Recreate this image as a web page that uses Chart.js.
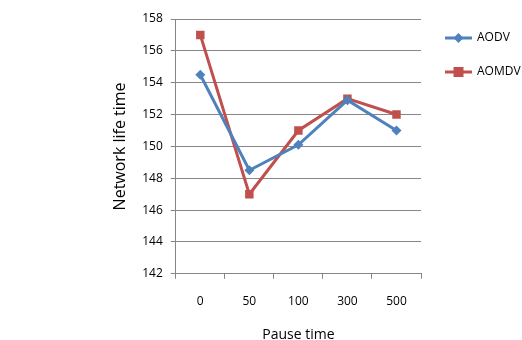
<!DOCTYPE html>
<html>
<head>
<meta charset="utf-8">
<script src="https://cdn.jsdelivr.net/npm/chart.js@4"></script>
<style>
  body { margin: 0; background: #fff; }
  #wrap { width: 522px; height: 340px; }
</style>
</head>
<body>
<div id="wrap"><canvas id="chart" width="522" height="340"></canvas></div>
<script>
const pauseTimes = ["0", "50", "100", "300", "500"];
const aodv = [154.5, 148.5, 150.1, 152.9, 151];
const aomdv = [157, 147, 151, 153, 152];
const seriesNames = ["AODV", "AOMDV"];

const FONT = "'Open Sans', 'Liberation Sans', sans-serif";

// legend drawn to the right of the plot: short line with marker, then name
const sideLegend = {
  id: "sideLegend",
  afterDraw(chart) {
    const c = chart.ctx;
    const x0 = 445, x1 = 472;
    chart.data.datasets.forEach((ds, i) => {
      const y = 38 + i * 34;
      c.save();
      c.strokeStyle = ds.borderColor;
      c.lineWidth = 3;
      c.beginPath(); c.moveTo(x0, y); c.lineTo(x1, y); c.stroke();
      c.fillStyle = ds.backgroundColor;
      const m = (x0 + x1) / 2;
      if (ds.pointStyle === "rect") {
        c.fillRect(m - 5, y - 5, 10, 10);
      } else {
        c.beginPath();
        c.moveTo(m, y - 5); c.lineTo(m + 5, y); c.lineTo(m, y + 5); c.lineTo(m - 5, y);
        c.closePath(); c.fill();
      }
      c.fillStyle = "#000";
      c.font = "12px " + FONT;
      c.textBaseline = "middle";
      c.fillText(ds.label, x1 + 5, y);
      c.restore();
    });
  }
};

new Chart(document.getElementById("chart"), {
  type: "line",
  data: {
    labels: pauseTimes,
    datasets: [
      {
        label: seriesNames[0],
        data: aodv,
        borderColor: "#4F81BD",
        backgroundColor: "#4F81BD",
        borderWidth: 3,
        pointStyle: "rectRot",
        pointRadius: 5,
        pointBorderWidth: 0,
        tension: 0
      },
      {
        label: seriesNames[1],
        data: aomdv,
        borderColor: "#C0504D",
        backgroundColor: "#C0504D",
        borderWidth: 3,
        pointStyle: "rect",
        pointRadius: 6,
        pointBorderWidth: 0,
        tension: 0
      }
    ]
  },
  options: {
    responsive: false,
    animation: false,
    layout: { padding: { left: 111, right: 101, top: 19, bottom: -3 } },
    plugins: { legend: { display: false }, tooltip: { enabled: false } },
    scales: {
      x: {
        offset: true,
        grid: {
          offset: true,
          drawOnChartArea: false,
          drawTicks: true,
          tickLength: 5,
          color: "#868686"
        },
        border: { color: "#868686" },
        ticks: { color: "#000", font: { family: FONT, size: 12 }, padding: 16 },
        title: {
          display: true,
          text: "Pause time",
          color: "#000",
          font: { family: FONT, size: 14 },
          padding: { top: 1, bottom: 0 }
        }
      },
      y: {
        min: 142,
        max: 158,
        ticks: { stepSize: 2, color: "#000", font: { family: FONT, size: 12 }, padding: 8 },
        grid: { color: "#868686", tickLength: 5 },
        border: { color: "#868686" },
        title: {
          display: true,
          text: "Network life time",
          color: "#000",
          font: { family: FONT, size: 16 },
          padding: { top: 0, bottom: 4 }
        }
      }
    }
  },
  plugins: [sideLegend]
});
</script>
</body>
</html>
